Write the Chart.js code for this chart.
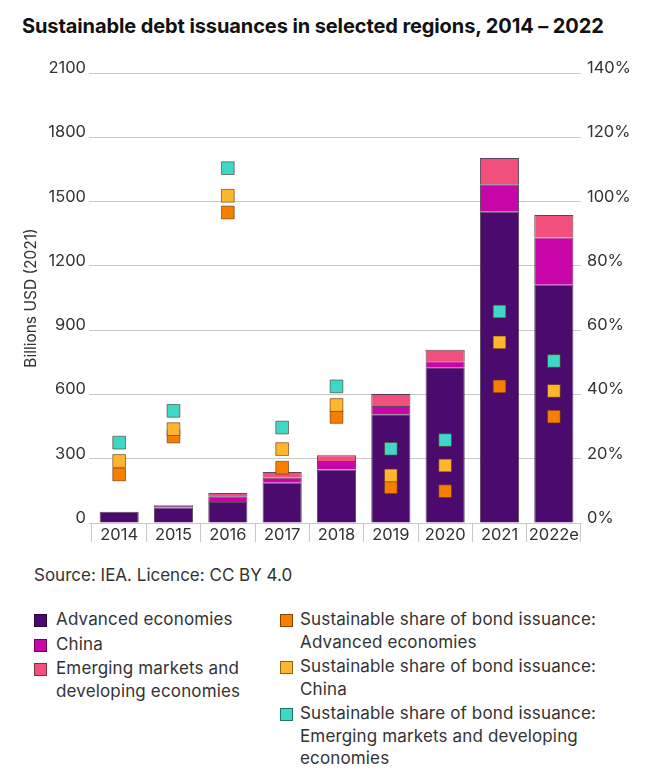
<!DOCTYPE html>
<html>
<head>
<meta charset="utf-8">
<script src="https://cdn.jsdelivr.net/npm/chart.js@4.4.1/dist/chart.umd.min.js"></script>
<style>
  html, body { margin: 0; padding: 0; background: #fff; }
  body { width: 650px; height: 775px; position: relative; overflow: hidden; font-family: Inter, "Open Sans", sans-serif; color: #222; }
  #title { position: absolute; left: 22px; top: 14px; font-size: 20px; font-weight: 700; color: #111; white-space: nowrap; letter-spacing: -0.1px; }
  #wrap { position: absolute; left: 0; top: 0; width: 650px; height: 550px; }
  #source { position: absolute; left: 34px; top: 565px; font-size: 17px; color: #333; }
  .legcol { position: absolute; top: 608px; }
  .item { display: flex; align-items: flex-start; margin-bottom: 2px; }
  .sw { width: 11px; height: 11px; border: 1px solid rgba(0,0,0,0.45); margin-top: 6px; flex: none; }
  .txt { font-size: 17px; line-height: 22.5px; color: #333; letter-spacing: 0.15px; }
</style>
</head>
<body>
<div id="title">Sustainable debt issuances in selected regions, 2014 – 2022</div>
<div id="wrap"><canvas id="c" width="650" height="550"></canvas></div>
<div id="source">Source: IEA. Licence: CC BY 4.0</div>
<div class="legcol" id="leg1" style="left:34px;"></div>
<div class="legcol" id="leg2" style="left:280px;"></div>
<script>
const categories = ['2014', '2015', '2016', '2017', '2018', '2019', '2020', '2021', '2022e'];
const advanced = [52, 72, 98, 188, 250, 508, 727, 1453, 1112];
const china = [0, 8, 27, 23, 39, 38, 28, 128, 220];
const emde = [0, 4, 15, 27, 27, 56, 53, 122, 105];
const advShare = [15.1, 26.9, 96.6, 17.2, 33.0, 11.1, 9.9, 42.5, 33.1];
const chinaShare = [19.3, 29.2, 101.8, 23.0, 36.7, 14.8, 17.9, 56.2, 41.1];
const emdeShare = [25.0, 34.9, 110.4, 29.7, 42.5, 23.1, 25.8, 65.8, 50.4];
const leftTicks = [0, 300, 600, 900, 1200, 1500, 1800, 2100];
const rightTicks = [0, 20, 40, 60, 80, 100, 120, 140];

const C = {
  adv: '#4b0a6e', china: '#c805a8', emde: '#f2507c',
  oAdv: '#f77f00', oChina: '#ffb62e', oEmde: '#3ed8c8'
};
const FONT = 'Inter, "Open Sans", sans-serif';

function bar(label, data, color) {
  return { type: 'bar', label, data, backgroundColor: color, borderColor: 'rgba(40,10,40,0.75)', borderWidth: 1, borderSkipped: 'bottom', stack: 's', yAxisID: 'y', order: 10, barPercentage: 0.72, categoryPercentage: 1 };
}
function pts(label, data, color, order) {
  return { type: 'line', label, data, showLine: false, pointStyle: 'rect', pointRadius: 9, pointHoverRadius: 9, pointBackgroundColor: color, pointBorderColor: 'rgba(90,50,20,0.6)', pointBorderWidth: 1, backgroundColor: color, borderColor: color, yAxisID: 'y1', order };
}

const datasets = [
  bar('Advanced economies', advanced, C.adv),
  bar('China', china, C.china),
  bar('Emerging markets and developing economies', emde, C.emde),
  pts('Sustainable share of bond issuance: Advanced economies', advShare, C.oAdv, 3),
  pts('Sustainable share of bond issuance: China', chinaShare, C.oChina, 2),
  pts('Sustainable share of bond issuance: Emerging markets and developing economies', emdeShare, C.oEmde, 1)
];

const chart = new Chart(document.getElementById('c'), {
  data: { labels: categories, datasets },
  options: {
    responsive: false, animation: false,
    layout: { padding: { top: 73, left: 22, right: 0, bottom: 0 } },
    plugins: { legend: { display: false }, tooltip: { enabled: false }, title: { display: false } },
    scales: {
      x: {
        offset: true,
        grid: { display: true, drawOnChartArea: false, drawTicks: true, tickLength: 19, offset: true, color: '#c8c8c8' },
        border: { display: true, color: '#c8c8c8' },
        ticks: { padding: -17, color: '#333', font: { family: FONT, size: 16.5 }, maxRotation: 0 },
        afterFit: s => { s.height = 27; }
      },
      y: {
        position: 'left', min: 0, max: 2100,
        afterBuildTicks: s => { s.ticks = leftTicks.map(v => ({ value: v })); },
        grid: { color: '#c8c8c8', tickLength: 3, drawTicks: true },
        border: { display: false },
        ticks: { padding: 3, labelOffset: -5, color: '#333', font: { family: FONT, size: 16.5 }, callback: v => String(v) },
        title: { display: true, text: 'Billions USD (2021)', color: '#333', font: { family: FONT, size: 15.5 }, padding: { top: 0, bottom: 0 } },
        afterFit: s => { s.width = 70; }
      },
      y1: {
        position: 'right', min: 0, max: 140,
        afterBuildTicks: s => { s.ticks = rightTicks.map(v => ({ value: v })); },
        grid: { display: false, drawTicks: false },
        border: { display: false },
        ticks: { padding: 6, labelOffset: -5, color: '#333', font: { family: FONT, size: 16.5 }, callback: v => v + '%' },
        afterFit: s => { s.width = 69; }
      }
    }
  }
});

// HTML legend built from the chart's datasets
function legItem(ds, lines) {
  const d = document.createElement('div'); d.className = 'item';
  const sw = document.createElement('div'); sw.className = 'sw';
  sw.style.background = ds.type === 'bar' ? ds.backgroundColor : ds.pointBackgroundColor;
  const t = document.createElement('div'); t.className = 'txt'; t.style.marginLeft = ds.type === 'bar' ? '9px' : '7px';
  t.innerHTML = lines.join('<br>');
  d.appendChild(sw); d.appendChild(t); return d;
}
const l1 = document.getElementById('leg1'), l2 = document.getElementById('leg2');
l1.appendChild(legItem(datasets[0], ['Advanced economies']));
l1.appendChild(legItem(datasets[1], ['China']));
l1.appendChild(legItem(datasets[2], ['Emerging markets and', 'developing economies']));
l2.appendChild(legItem(datasets[3], ['Sustainable share of bond issuance:', 'Advanced economies']));
l2.appendChild(legItem(datasets[4], ['Sustainable share of bond issuance:', 'China']));
l2.appendChild(legItem(datasets[5], ['Sustainable share of bond issuance:', 'Emerging markets and developing', 'economies']));
</script>
</body>
</html>
